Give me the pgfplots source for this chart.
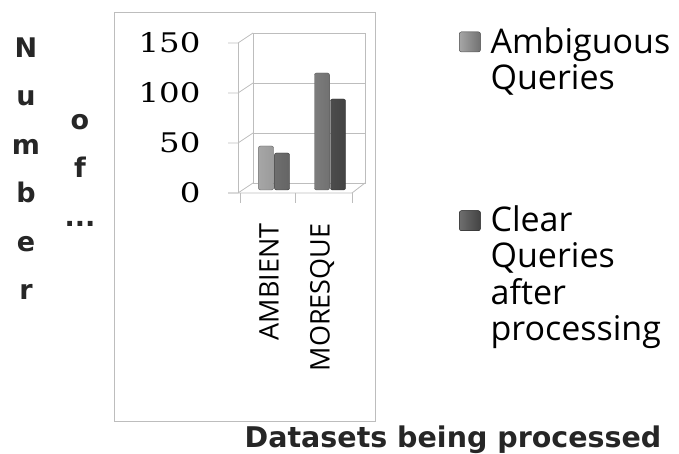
\documentclass[border=0pt]{standalone}
\usepackage{fontspec}
\usepackage{pgfplots}
\pgfplotsset{compat=1.18}
\newfontfamily\legfont{Open Sans}
\newfontfamily\tickfont[FakeStretch=1.2]{DejaVu Serif}
\newfontfamily\labfont{DejaVu Sans}
\definecolor{ambA}{HTML}{A6A6A6}
\definecolor{ambB}{HTML}{717171}
\definecolor{clrA}{HTML}{6E6E6E}
\definecolor{clrB}{HTML}{434343}
\definecolor{wall}{HTML}{BDBDBD}

\begin{document}
\begin{tikzpicture}[x=1pt,y=1pt]
\path[use as bounding box, clip] (0,0) rectangle (679,454);
% outer chart frame
\draw[wall, line width=1pt] (114,454-13) rectangle (375,454-422);

% 3D walls (background, pixel positions)
\begin{scope}[wall, line width=0.8pt, yshift=454pt, y=-1pt]
  \draw (253,33) rectangle (365,183);
  \foreach \v in {133,83} {\draw (253,\v) -- (365,\v);}
  \foreach \f/\b in {193/183,143/133,93/83,43/33} {
    \draw (228,\f) -- (238,\f) -- (253,\b);
  }
  \draw (238,43) -- (238,193);
  \draw (228,193) -- (352,193) -- (365,183);
  \foreach \t in {240,295,352} {\draw (\t,193) -- (\t,203);}
\end{scope}

\begin{axis}[
    at={(246pt,264pt)}, anchor=south west,
    scale only axis,
    width=112pt, height=150pt,
    xmin=0, xmax=2,
    ymin=0, ymax=150,
    axis line style={draw=none},
    major tick length=0pt,
    /pgf/number format/assume math mode=true,
    ytick={0,50,100,150},
    yticklabel style={font=\tickfont\fontsize{27}{30}\selectfont, anchor=east, xshift=-42pt, yshift=-3pt},
    xtick={0.41,1.36},
    xticklabels={AMBIENT,MORESQUE},
    xticklabel style={font=\legfont\fontsize{27}{30}\selectfont, rotate=90, anchor=east},
    xticklabel shift=30pt,
    ybar, bar width=15pt,
    clip=false,
    legend cell align=left,
    legend style={draw=none, fill=none, at={(210pt,167pt)}, anchor=north west,
        font=\legfont\fontsize{34}{36}\selectfont,
        /tikz/every odd column/.append style={column sep=8pt}},
    legend image code/.code={\fill[#1] (0pt,-11pt) rectangle (21pt,9pt);},
]
\addplot[bar shift=-8pt, draw=ambB!80!black, left color=ambA, right color=ambB, rounded corners=2pt]
    coordinates {(0.5,44) (1.5,117)};
\addlegendentry{\begin{tabular}[t]{@{}l@{}}Ambiguous\\Queries\end{tabular}}
\addlegendimage{empty legend}
\addlegendentry{\rule{0pt}{142pt}}
\addplot[bar shift=8pt, draw=clrB!70!black, left color=clrA, right color=clrB, rounded corners=2pt]
    coordinates {(0.5,37) (1.5,91)};
\addlegendentry{\begin{tabular}[t]{@{}l@{}}Clear\\Queries\\after\\processing\end{tabular}}
\end{axis}

% axis titles
\node[anchor=base, font=\labfont\bfseries\fontsize{28.5}{30}\selectfont, text=black!85] at (453,454-448) {Datasets being processed};
\begin{scope}[every node/.style={anchor=base, font=\labfont\bfseries\fontsize{27}{30}\selectfont, text=black!85}]
  \node at (26,454-58) {N};
  \node at (26,454-106) {u};
  \node at (26,454-155) {m};
  \node at (26,454-203) {b};
  \node at (26,454-252) {e};
  \node at (26,454-300) {r};
  \node at (80,454-130) {o};
  \node at (80,454-178) {f};
  \node at (80,454-227) {...};
\end{scope}
\end{tikzpicture}
\end{document}
